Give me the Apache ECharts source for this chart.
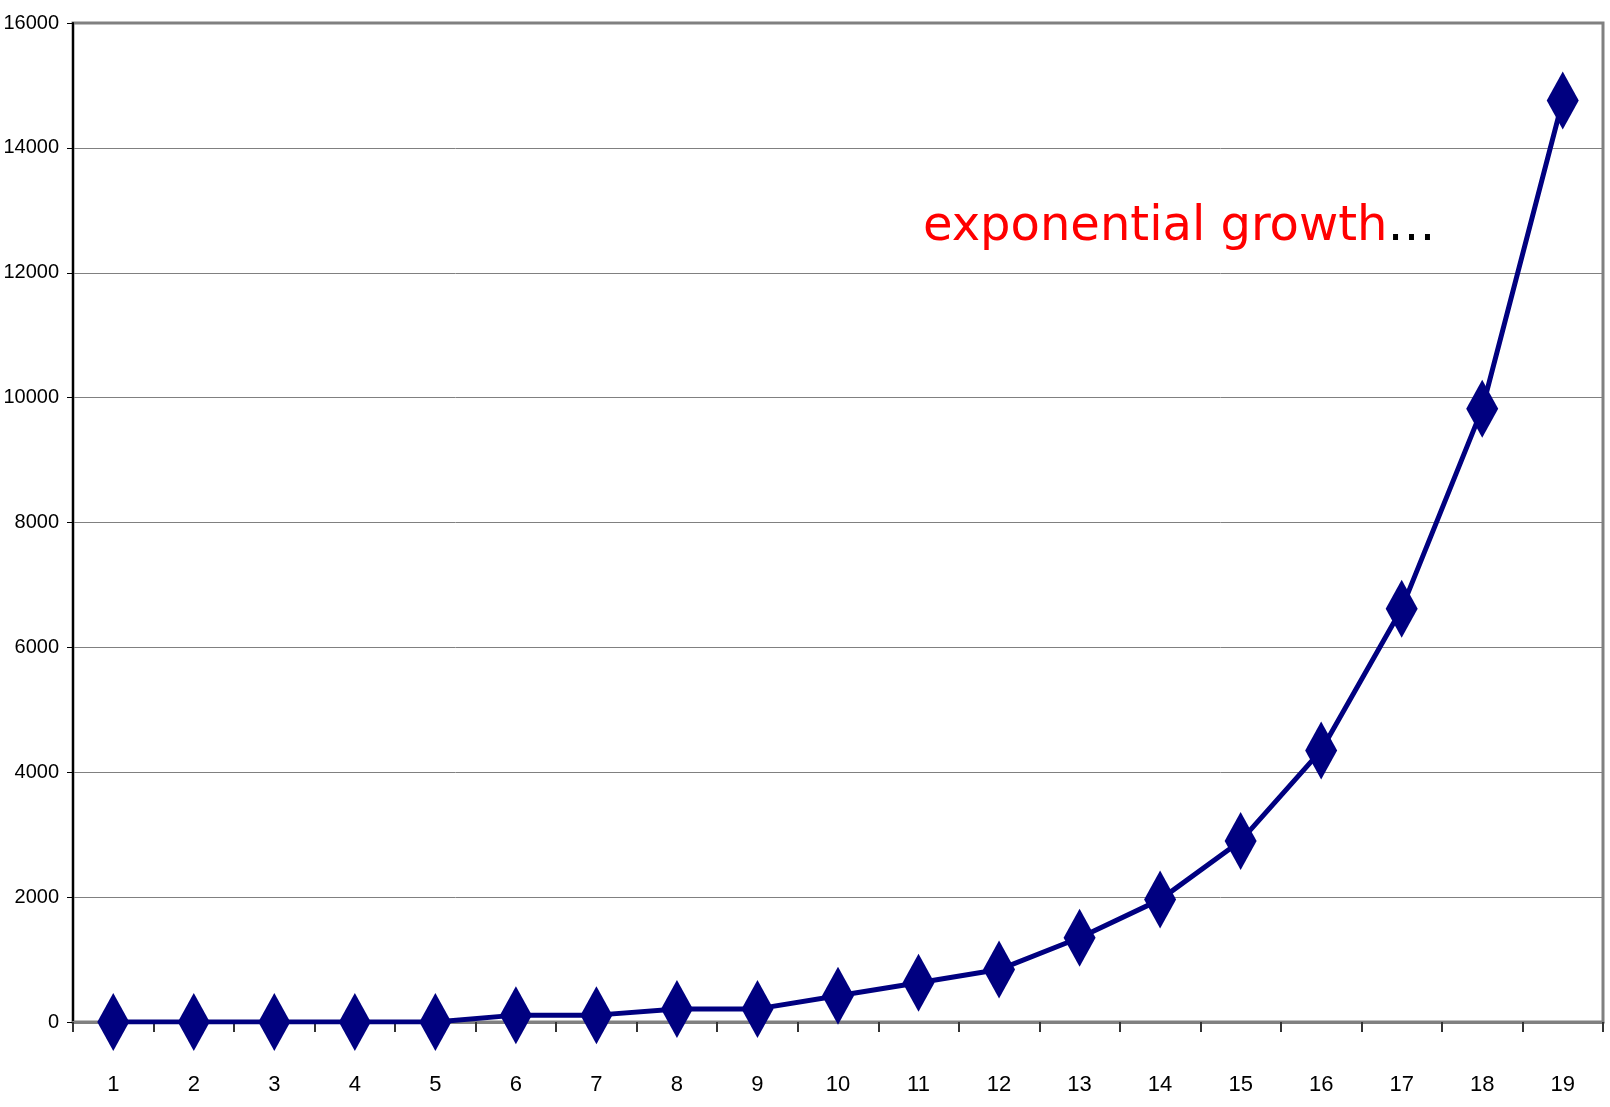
<!DOCTYPE html>
<html lang="en">
<head>
  <meta charset="UTF-8">
  <title>exponential growth</title>
  <script src="https://cdn.jsdelivr.net/npm/echarts@6/dist/echarts.min.js"></script>
  <style type="text/css">
    html, body { margin: 0; padding: 0; background: #ffffff; }
    #main { width: 1610px; height: 1107px; }
  </style>
</head>
<body>
<div id="main"></div>
<script type="text/javascript">
// data
var steps = ['1', '2', '3', '4', '5', '6', '7', '8', '9', '10',
             '11', '12', '13', '14', '15', '16', '17', '18', '19'];
var counts = [0, 0, 0, 0, 0, 110, 110, 210, 210, 420,
              630, 840, 1350, 1960, 2900, 4350, 6620, 9820, 14760];
var yTicks = [0, 16000, 2000]; // min, max, step

var narrow = "'Liberation Sans Narrow', 'Arial Narrow', 'Liberation Sans', sans-serif";

var myChart = echarts.init(document.getElementById('main'));

var option = {
  animation: false,
  title: {
    left: 918,
    top: 199,
    text: '{r|exponential growth}{k|…}',
    textStyle: {
      rich: {
        r: { color: '#ff0000', fontSize: 48, fontWeight: 'normal', fontFamily: "Verdana, 'DejaVu Sans', sans-serif" },
        k: { color: '#000000', fontSize: 48, fontWeight: 'normal', fontFamily: "Verdana, 'DejaVu Sans', sans-serif" }
      }
    }
  },
  grid: {
    left: 73,
    right: 7,
    top: 23,
    bottom: 85,
    outerBoundsMode: 'none',
    containLabel: false,
    show: true,
    borderColor: '#808080',
    borderWidth: 3
  },
  xAxis: {
    type: 'category',
    data: steps,
    boundaryGap: true,
    axisLine: { lineStyle: { color: '#808080', width: 3 } },
    axisTick: { show: true, length: 10, interval: 0, lineStyle: { color: '#333333', width: 2 } },
    axisLabel: { color: '#000000', fontSize: 22, fontFamily: narrow, margin: 52 },
    splitLine: { show: false }
  },
  yAxis: {
    type: 'value',
    min: yTicks[0],
    max: yTicks[1],
    interval: yTicks[2],
    axisLine: { show: true, lineStyle: { color: '#000000', width: 2 } },
    axisTick: { show: true, length: 6, lineStyle: { color: '#000000', width: 1 } },
    axisLabel: {
      color: '#000000', fontSize: 20, fontFamily: narrow, margin: 14,
      formatter: function (v) { return String(v); }
    },
    splitLine: { show: true, lineStyle: { color: '#808080', width: 1 } }
  },
  series: [
    {
      name: 'count',
      type: 'line',
      data: counts,
      symbol: 'diamond',
      symbolSize: [32, 58],
      lineStyle: { color: '#000080', width: 5 },
      itemStyle: { color: '#000080' }
    }
  ]
};
myChart.setOption(option);
</script>
</body>
</html>
